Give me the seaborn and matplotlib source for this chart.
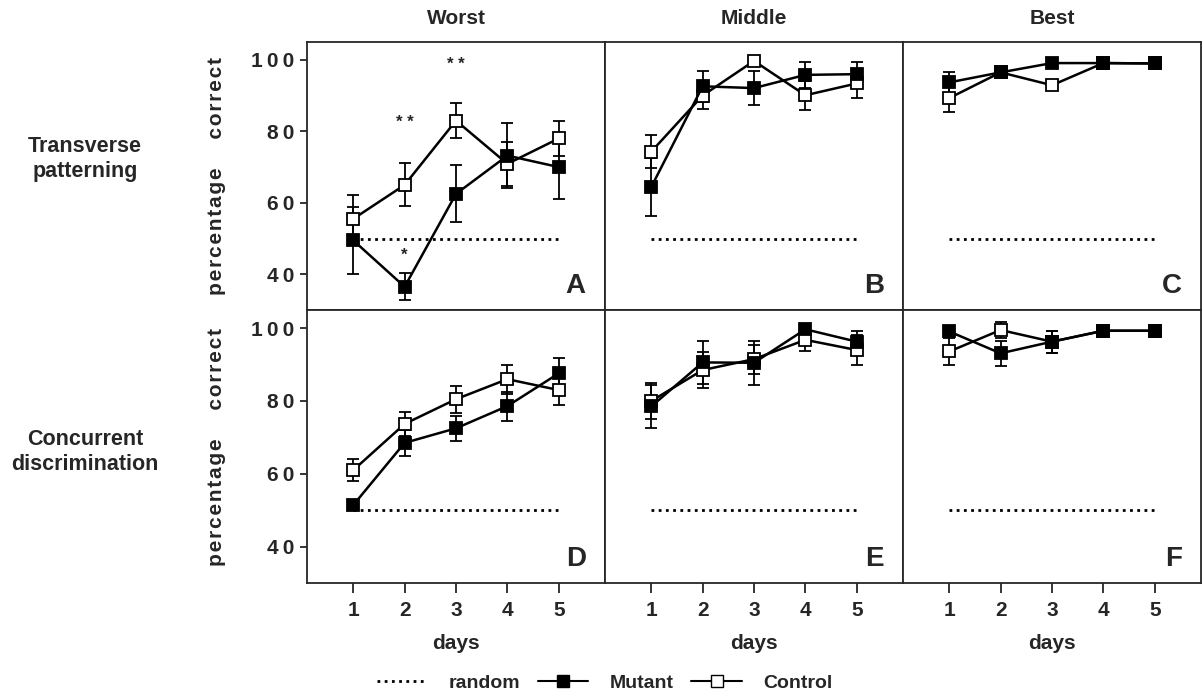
import numpy as np
import pandas as pd
import matplotlib
matplotlib.use("Agg")
import matplotlib.pyplot as plt
from matplotlib.lines import Line2D
import seaborn as sns

# values (percentage correct, +/- error)
days = [1, 2, 3, 4, 5]
panels = ["A", "B", "C", "D", "E", "F"]
columns = ["Worst", "Middle", "Best"]
rows = ["Transverse\npatterning", "Concurrent\ndiscrimination"]

mutant = {
    "A": [49.5, 36.5, 62.5, 73.2, 70.0],
    "B": [64.4, 92.6, 92.1, 95.8, 96.0],
    "C": [93.7, 96.5, 99.1, 99.1, 99.0],
    "D": [51.4, 68.5, 72.5, 78.6, 87.6],
    "E": [78.5, 90.6, 90.5, 99.7, 96.3],
    "F": [99.1, 93.1, 96.3, 99.3, 99.3],
}
mutant_err = {
    "A": [9.3, 3.8, 8.0, 9.0, 9.0],
    "B": [8.0, 4.4, 4.8, 3.6, 3.4],
    "C": [3.0, 0.0, 0.0, 0.0, 0.0],
    "D": [0.0, 3.6, 3.5, 4.0, 4.3],
    "E": [6.0, 6.0, 6.0, 0.0, 3.0],
    "F": [0.0, 3.5, 3.0, 0.0, 0.0],
}
control = {
    "A": [55.5, 65.0, 83.0, 70.9, 78.0],
    "B": [74.3, 90.0, 99.7, 90.1, 93.4],
    "C": [89.3, 96.5, 92.9, 99.1, 99.0],
    "D": [61.0, 73.7, 80.5, 86.0, 83.0],
    "E": [80.0, 88.5, 91.5, 96.8, 94.0],
    "F": [93.6, 99.5, 96.3, 99.3, 99.3],
}
control_err = {
    "A": [6.8, 6.0, 5.0, 6.2, 5.0],
    "B": [4.7, 3.8, 0.0, 4.0, 4.0],
    "C": [3.8, 0.0, 0.0, 0.0, 0.0],
    "D": [3.0, 3.2, 3.7, 4.0, 4.0],
    "E": [5.0, 5.0, 4.0, 3.0, 4.0],
    "F": [3.7, 2.3, 3.0, 0.0, 0.0],
}
chance = 50
# significance stars in panel A: (day, y, text)
stars = [(2, 82.5, "* *"), (3, 98.6, "* *"), (2, 45.3, "*")]

records = []
for p in panels:
    for i, d in enumerate(days):
        records.append((p, d, "Mutant", mutant[p][i], mutant_err[p][i]))
        records.append((p, d, "Control", control[p][i], control_err[p][i]))
df = pd.DataFrame(records, columns=["panel", "day", "group", "pct", "err"])

sns.set_style("ticks")
plt.rcParams["font.family"] = ["Liberation Sans", "DejaVu Sans"]
plt.rcParams["font.weight"] = "bold"

fig = plt.figure(figsize=(12.02, 6.96), dpi=100)
left, width = 307 / 1202, 298 / 1202
tops = [1 - 42 / 696, 1 - 310 / 696]
heights = [268 / 696, 273 / 696]
row_y = [0.563, 0.48]

# letter-spaced y label, as in the original
ylab = "\u200a".join("percentage") + "     " + "\u200a".join("correct")

for idx, p in enumerate(panels):
    r, c = divmod(idx, 3)
    ax = fig.add_axes([left + c * width, tops[r] - heights[r], width, heights[r]])
    sub = df[df.panel == p]

    ax.plot([days[0], days[-1]], [chance, chance], color="k", lw=2,
            linestyle=(0, (1, 1.6)))

    for grp, face in [("Control", "white"), ("Mutant", "black")]:
        g = sub[sub.group == grp]
        ax.errorbar(g.day, g.pct, yerr=g.err, fmt="none", ecolor="k",
                    elinewidth=1.3, capsize=4.5, capthick=1.3, zorder=2)
        sns.lineplot(data=g, x="day", y="pct", ax=ax, color="k", lw=1.8,
                     marker="s", markersize=9, markerfacecolor=face,
                     markeredgecolor="k", markeredgewidth=1.3, zorder=3)

    ax.set_xlim(0.1, 5.9)
    ax.set_ylim(30, 105)
    ax.set_xlabel("")
    ax.set_ylabel("")
    for s in ax.spines.values():
        s.set_linewidth(1.3)
    ax.tick_params(direction="out", length=7, width=1.3, labelsize=15, pad=6)

    if r == 1:
        ax.set_xticks(days)
        ax.set_xticklabels([str(d) for d in days], fontweight="bold")
        ax.set_xlabel("days", fontsize=15, fontweight="bold", labelpad=10)
    else:
        ax.set_xticks([])
        ax.set_title(columns[c], fontsize=15, fontweight="bold", pad=13)

    if c == 0:
        ax.set_yticks([40, 60, 80, 100])
        ax.set_yticklabels(["4\u20090", "6\u20090", "8\u20090", "1\u20090\u20090"],
                           fontweight="bold")
        ax.tick_params(axis="y", length=5, pad=4)
        ax.set_ylabel(ylab, fontsize=15, fontweight="bold", labelpad=18)
        ax.text(-0.745, row_y[r], rows[r], transform=ax.transAxes, ha="center",
                va="center", fontsize=15.5, fontweight="bold", linespacing=1.25)
    else:
        ax.set_yticks([])

    ax.text(0.935, 0.04, p, transform=ax.transAxes, ha="right", va="bottom",
            fontsize=20, fontweight="bold")

    if p == "A":
        for d, y, t in stars:
            ax.text(d, y, t, ha="center", va="center", fontsize=12,
                    fontweight="bold")

handles = [
    Line2D([], [], color="k", lw=2, linestyle=(0, (1, 1.6))),
    Line2D([], [], color="k", lw=1.5, marker="s", markersize=8,
           markerfacecolor="black"),
    Line2D([], [], color="k", lw=1.5, marker="s", markersize=8,
           markerfacecolor="white"),
]
fig.legend(handles, ["random", "Mutant", "Control"], loc="center",
           bbox_to_anchor=(0.503, 0.018), ncol=3, frameon=False,
           handlelength=2.6, handletextpad=1.1, columnspacing=0.9,
           prop={"weight": "bold", "size": 14})

fig.savefig("out.png", dpi=100)
